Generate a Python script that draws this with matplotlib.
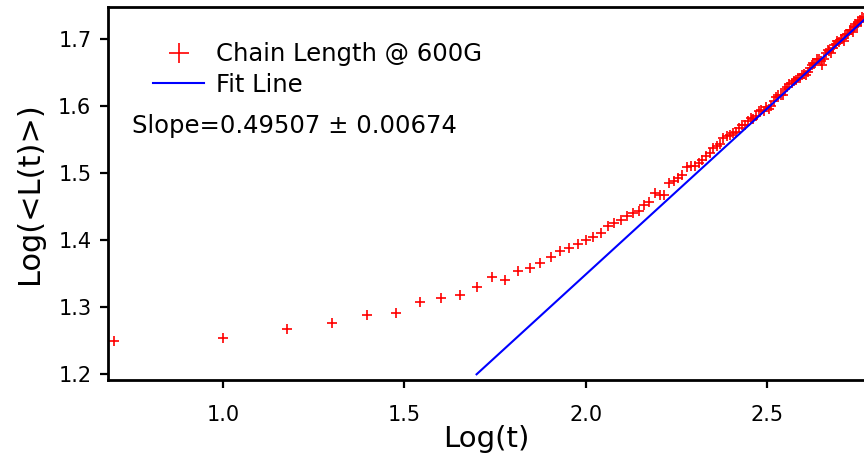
import matplotlib
matplotlib.use("Agg")
import matplotlib.pyplot as plt
import numpy as np

# time steps (t) sampled every 5 units
t_values = [
    5, 10, 15, 20, 25, 30, 35, 40, 45, 50, 55, 60, 65, 70, 75, 80, 85, 90, 95, 100,
    105, 110, 115, 120, 125, 130, 135, 140, 145, 150, 155, 160, 165, 170, 175, 180,
    185, 190, 195, 200, 205, 210, 215, 220, 225, 230, 235, 240, 245, 250, 255, 260,
    265, 270, 275, 280, 285, 290, 295, 300, 305, 310, 315, 320, 325, 330, 335, 340,
    345, 350, 355, 360, 365, 370, 375, 380, 385, 390, 395, 400, 405, 410, 415, 420,
    425, 430, 435, 440, 445, 450, 455, 460, 465, 470, 475, 480, 485, 490, 495, 500,
    505, 510, 515, 520, 525, 530, 535, 540, 545, 550, 555, 560, 565, 570, 575, 580,
    585,
]

# Log(<L(t)>)
log_L = [
    1.249, 1.254, 1.267, 1.276, 1.288, 1.291, 1.307, 1.314, 1.318, 1.330,
    1.345, 1.341, 1.354, 1.359, 1.365, 1.375, 1.384, 1.388, 1.394, 1.400,
    1.405, 1.411, 1.421, 1.426, 1.430, 1.436, 1.440, 1.444, 1.452, 1.457,
    1.470, 1.468, 1.468, 1.485, 1.488, 1.492, 1.497, 1.509, 1.510, 1.511,
    1.515, 1.520, 1.526, 1.530, 1.538, 1.541, 1.543, 1.553, 1.555, 1.557,
    1.560, 1.561, 1.567, 1.572, 1.572, 1.578, 1.583, 1.581, 1.585, 1.593,
    1.594, 1.593, 1.598, 1.595, 1.600, 1.607, 1.614, 1.616, 1.616, 1.617,
    1.625, 1.629, 1.633, 1.634, 1.637, 1.639, 1.642, 1.642, 1.647, 1.648,
    1.647, 1.651, 1.657, 1.661, 1.665, 1.664, 1.671, 1.671, 1.667, 1.661,
    1.670, 1.680, 1.684, 1.683, 1.680, 1.687, 1.692, 1.693, 1.697, 1.696,
    1.700, 1.701, 1.698, 1.707, 1.708, 1.708, 1.713, 1.713, 1.711, 1.718,
    1.722, 1.720, 1.725, 1.729, 1.727, 1.733, 1.732,
]

# Fit line parameters
fit_slope = 0.49507
fit_slope_err = 0.00674
fit_intercept = 0.3584
fit_x_range = [1.699, 2.80]

x_ticks = [1.0, 1.5, 2.0, 2.5]
y_ticks = [1.2, 1.3, 1.4, 1.5, 1.6, 1.7]

plt.rcParams['font.family'] = ['DejaVu Sans']

fig = plt.figure(figsize=(8.64, 4.61), dpi=100)
ax = fig.add_axes([0.125, 0.1757, 0.875, 0.809])

x = np.log10(np.array(t_values, dtype=float))
ax.plot(x, log_L, linestyle='none', marker='+', color='#ff0000',
        markersize=7, markeredgewidth=1.2, label='Chain Length @ 600G')

fx = np.array(fit_x_range)
ax.plot(fx, fit_intercept + fit_slope * fx, color='#0000ff', linewidth=1.5,
        label='Fit Line')

ax.set_xlim(0.682, 2.768)
ax.set_ylim(1.191, 1.748)
ax.set_xticks(x_ticks)
ax.set_yticks(y_ticks)
ax.set_xticklabels([f"{v:.1f}" for v in x_ticks])
ax.set_yticklabels([f"{v:.1f}" for v in y_ticks])

for s in ['top', 'left', 'bottom']:
    ax.spines[s].set_linewidth(2.0)
    ax.spines[s].set_color('black')
ax.spines['right'].set_visible(False)

ax.tick_params(axis='both', direction='out', length=6, width=1.6,
               labelsize=15, pad=6)
ax.tick_params(axis='x', pad=12)

ax.set_xlabel('Log(t)', fontsize=21, labelpad=0)
ax.set_ylabel('Log(<L(t)>)', fontsize=22, labelpad=10)

leg = ax.legend(loc='upper left', bbox_to_anchor=(0.0595, 0.905),
                frameon=False, fontsize=17.5, borderpad=0, borderaxespad=0,
                handlelength=2.1, handletextpad=0.5, labelspacing=0.25,
                markerscale=2.0)

ax.text(0.032, 0.68, f'Slope={fit_slope:.5f} \u00b1 {fit_slope_err:.5f}',
        transform=ax.transAxes, fontsize=17.5, va='center', ha='left')

fig.savefig('out.png', dpi=100)
